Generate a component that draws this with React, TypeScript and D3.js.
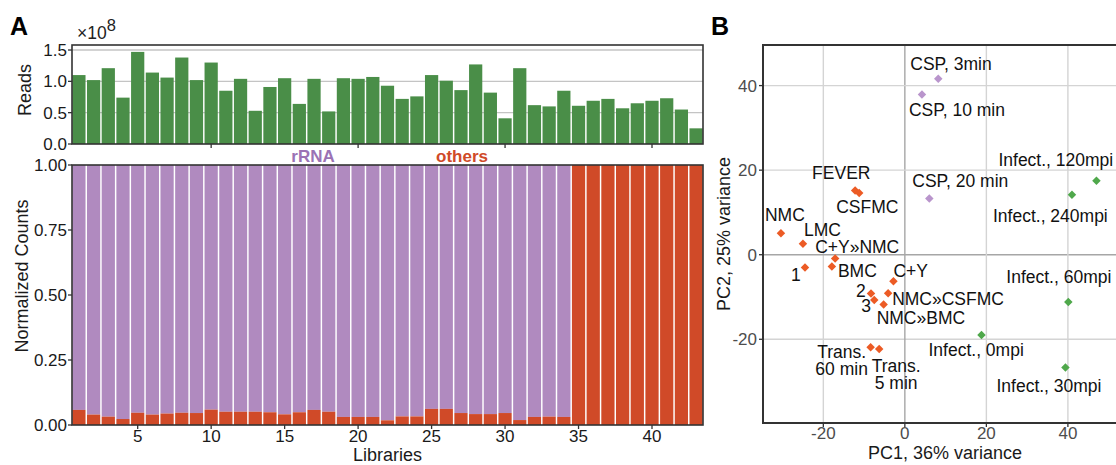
import React from 'react';
import * as d3 from 'd3';

// panel A data: 43 libraries
const libraries = d3.range(1, 44);
// total reads, in units of 1e8
const reads = [
  1.1, 1.02, 1.21, 0.74, 1.47, 1.14, 1.06, 1.38, 1.02, 1.3,
  0.85, 1.04, 0.53, 0.91, 1.05, 0.64, 1.04, 0.52, 1.05, 1.04,
  1.07, 0.93, 0.72, 0.76, 1.1, 1.01, 0.86, 1.27, 0.82, 0.41,
  1.21, 0.62, 0.6, 0.85, 0.61, 0.69, 0.72, 0.57, 0.65, 0.69,
  0.73, 0.55, 0.25,
];
// fraction of "others" in each library (rRNA is the rest)
const othersFrac = [
  0.058, 0.04, 0.032, 0.023, 0.047, 0.04, 0.044, 0.047, 0.046, 0.059,
  0.051, 0.051, 0.051, 0.049, 0.041, 0.049, 0.058, 0.051, 0.031, 0.031,
  0.031, 0.018, 0.033, 0.033, 0.062, 0.062, 0.046, 0.042, 0.042, 0.046,
  0.019, 0.031, 0.032, 0.031, 1, 1, 1, 1, 1, 1,
  1, 1, 1,
];
const readsTicks = [0, 0.5, 1.0, 1.5];
const normTicks = [0, 0.25, 0.5, 0.75, 1.0];
const libTicks = [5, 10, 15, 20, 25, 30, 35, 40];
const libTicksTop = [10, 20, 30, 40];

// panel B data: PCA
const pcaNames = [
  'CSP, 3min', 'CSP, 10 min', 'CSP, 20 min',
  'Infect., 120mpi', 'Infect., 240mpi', 'Infect., 60mpi', 'Infect., 0mpi', 'Infect., 30mpi',
  'FEVER', 'CSFMC', 'NMC', 'LMC', 'C+Y»NMC', '1', 'BMC', 'C+Y', '2', '3',
  'NMC»CSFMC', 'NMC»BMC', 'Trans.\n60 min', 'Trans.\n5 min',
];
const pcaX = [8.2, 4.2, 6.0, 47, 41.0, 40.1, 18.8, 39.4,
  -12.2, -11.2, -30.4, -25.0, -17.1, -24.5, -17.9, -2.8, -8.3, -7.5,
  -4.1, -5.2, -8.4, -6.3];
const pcaY = [41.6, 37.9, 13.3, 17.5, 14.2, -11.2, -19.0, -26.7,
  15.2, 14.6, 5.1, 2.6, -0.9, -3.0, -2.8, -6.3, -9.2, -10.7,
  -9.1, -11.8, -21.9, -22.3];
const pcaGroup = ['csp', 'csp', 'csp', 'inf', 'inf', 'inf', 'inf', 'inf',
  'mc', 'mc', 'mc', 'mc', 'mc', 'mc', 'mc', 'mc', 'mc', 'mc', 'mc', 'mc', 'mc', 'mc'];
const pcaTicks = [-20, 0, 20, 40];

// label placement (pixel offsets from the point, text anchor)
const labelPos: [number, number, string][] = [
  [-28, -9, 'start'], [-13, 22, 'start'], [-17, -11, 'start'],
  [-98, -15, 'start'], [-79, 27, 'start'], [-62, -19, 'start'], [-53, 21, 'start'], [-69, 24, 'start'],
  [-43, -11, 'start'], [-23, 20, 'start'], [-16, -12, 'start'], [1, -8, 'start'], [-20, -6, 'start'],
  [-14, 14, 'start'], [6, 10, 'start'], [0, -4, 'start'], [-15, 3, 'start'], [-13, 12, 'start'],
  [4, 12, 'start'], [-7, 19, 'start'], [-29, 11, 'middle'], [17, 23, 'middle'],
];

const groupColor: Record<string, string> = {csp: '#b995cc', inf: '#4fa84b', mc: '#ec5b25'};

const FONT = '"Liberation Sans", Arial, sans-serif';
const GREEN = '#4a8e48';
const PURPLE = '#b08abf';
const ORANGE = '#d04a28';
const FRAME = '#333333';

export default function App() {
  const W = 1116;
  const H = 465;

  // panel A geometry
  const aL = 72, aR = 703;
  const x = d3.scaleBand<number>().domain(libraries).range([aL, aR]).paddingInner(0.1).paddingOuter(0.02);
  const xc = (d: number) => (x(d) as number) + x.bandwidth() / 2;
  const yTop = d3.scaleLinear().domain([0, 1.58]).range([144, 45]);
  const yBot = d3.scaleLinear().domain([0, 1]).range([425, 165]);

  // panel B geometry
  const bL = 763, bR = 1127, bT = 45, bB = 423;
  const px = d3.scaleLinear().domain([-34.8, 54.5]).range([bL, bR]);
  const py = d3.scaleLinear().domain([-39.8, 49.6]).range([bB, bT]);
  const diamond = d3.symbol(d3.symbolSquare, 36)() as string;

  return (
    <svg width={W} height={H} style={{position: 'absolute', left: 0, top: 0, background: '#fff'}}
      fontFamily={FONT}>
      {/* ---- panel A, top: reads ---- */}
      <text x={10} y={35} fontSize={25} fontWeight="bold">A</text>
      <text x={77} y={39} fontSize={17.5} fill="#222">×10<tspan dy={-8} fontSize={16.5}>8</tspan></text>
      {readsTicks.slice(1).map((t) => (
        <line key={t} x1={aL} x2={aR} y1={yTop(t)} y2={yTop(t)} stroke="#c4c4c4" strokeWidth={1.3} />
      ))}
      {libraries.map((d, i) => (
        <rect key={d} x={x(d)} width={x.bandwidth()} y={yTop(reads[i])} height={yTop(0) - yTop(reads[i])}
          fill={GREEN} />
      ))}
      <rect x={aL} y={45} width={aR - aL} height={144 - 45} fill="none" stroke={FRAME} strokeWidth={1.6} />
      {readsTicks.map((t) => (
        <g key={t}>
          <line x1={aL - 4} x2={aL} y1={yTop(t)} y2={yTop(t)} stroke={FRAME} strokeWidth={1.3} />
          <text x={aL - 5} y={yTop(t) + 6} textAnchor="end" fontSize={17} fill="#1a1a1a">{d3.format('.1f')(t)}</text>
        </g>
      ))}
      {libTicksTop.map((t) => (
        <line key={t} x1={xc(t)} x2={xc(t)} y1={144} y2={148} stroke={FRAME} strokeWidth={1.3} />
      ))}
      <text transform="translate(31,90) rotate(-90)" textAnchor="middle" fontSize={18} fill="#1a1a1a">Reads</text>

      {/* ---- panel A, bottom: normalized counts ---- */}
      <text x={313} y={162} textAnchor="middle" fontSize={17} fontWeight="bold" fill="#9b72b5">rRNA</text>
      <text x={462} y={162} textAnchor="middle" fontSize={17} fontWeight="bold" fill={ORANGE}>others</text>
      {libraries.map((d, i) => (
        <g key={d}>
          <rect x={x(d)} width={x.bandwidth()} y={yBot(1)} height={yBot(othersFrac[i]) - yBot(1)} fill={PURPLE} />
          <rect x={x(d)} width={x.bandwidth()} y={yBot(othersFrac[i])} height={yBot(0) - yBot(othersFrac[i])}
            fill={ORANGE} />
        </g>
      ))}
      <rect x={aL} y={165} width={aR - aL} height={425 - 165} fill="none" stroke={FRAME} strokeWidth={1.6} />
      {normTicks.map((t) => (
        <g key={t}>
          <line x1={aL - 4} x2={aL} y1={yBot(t)} y2={yBot(t)} stroke={FRAME} strokeWidth={1.3} />
          <text x={aL - 5} y={yBot(t) + 6} textAnchor="end" fontSize={17} fill="#1a1a1a">{d3.format('.2f')(t)}</text>
        </g>
      ))}
      {libTicks.map((t) => (
        <g key={t}>
          <line x1={xc(t)} x2={xc(t)} y1={425} y2={429} stroke={FRAME} strokeWidth={1.3} />
          <text x={xc(t)} y={442} textAnchor="middle" fontSize={17} fill="#1a1a1a">{t}</text>
        </g>
      ))}
      <text x={(aL + aR) / 2} y={461} textAnchor="middle" fontSize={18} fill="#1a1a1a">Libraries</text>
      <text transform="translate(28,276) rotate(-90)" textAnchor="middle" fontSize={18} fill="#1a1a1a">
        Normalized Counts
      </text>

      {/* ---- panel B: PCA ---- */}
      <text x={711} y={35} fontSize={25} fontWeight="bold">B</text>
      {pcaTicks.map((t) => (
        <g key={t}>
          <line x1={px(t)} x2={px(t)} y1={bT} y2={bB} stroke={t === 0 ? '#a6a6a6' : '#d4d4d4'} strokeWidth={1.4} />
          <line x1={bL} x2={bR} y1={py(t)} y2={py(t)} stroke={t === 0 ? '#a6a6a6' : '#d4d4d4'} strokeWidth={1.4} />
        </g>
      ))}
      <rect x={bL} y={bT} width={bR - bL} height={bB - bT} fill="none" stroke={FRAME} strokeWidth={2} />
      {pcaTicks.map((t) => (
        <g key={t}>
          <line x1={px(t)} x2={px(t)} y1={bB} y2={bB + 4} stroke={FRAME} strokeWidth={1.3} />
          <text x={px(t)} y={439} textAnchor="middle" fontSize={17} fill="#4d4d4d">{t}</text>
          <line x1={bL - 4} x2={bL} y1={py(t)} y2={py(t)} stroke={FRAME} strokeWidth={1.3} />
          <text x={bL - 6} y={py(t) + 6} textAnchor="end" fontSize={17} fill="#4d4d4d">{t}</text>
        </g>
      ))}
      <text x={(bL + bR) / 2} y={459} textAnchor="middle" fontSize={18} fill="#1a1a1a">PC1, 36% variance</text>
      <text transform={`translate(730,${(bT + bB) / 2}) rotate(-90)`} textAnchor="middle" fontSize={18} fill="#1a1a1a">
        PC2, 25% variance
      </text>
      {pcaNames.map((n, i) => (
        <path key={n} d={diamond} fill={groupColor[pcaGroup[i]]}
          transform={`translate(${px(pcaX[i])},${py(pcaY[i])}) rotate(45)`} />
      ))}
      {pcaNames.map((n, i) => {
        const [dx, dy, anchor] = labelPos[i];
        const lines = n.split('\n');
        return (
          <text key={n} x={px(pcaX[i]) + dx} y={py(pcaY[i]) + dy} textAnchor={anchor} fontSize={17.5} fill="#111">
            {lines.map((l, j) => (
              <tspan key={j} x={px(pcaX[i]) + dx} dy={j === 0 ? 0 : 17}>{l}</tspan>
            ))}
          </text>
        );
      })}
    </svg>
  );
}
